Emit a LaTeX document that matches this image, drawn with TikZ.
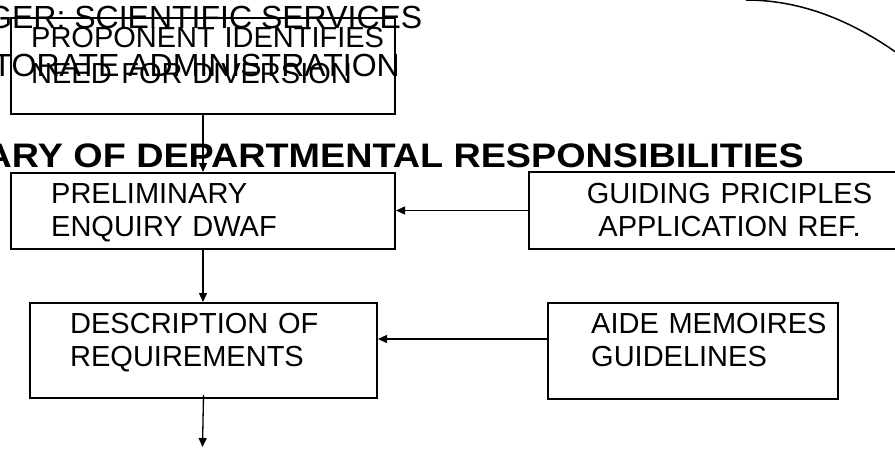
\documentclass[tikz,border=0pt]{standalone}
\usepackage{fontspec}
\usepackage{graphicx}
\setmainfont{Liberation Sans}
\usetikzlibrary{arrows.meta}
\tikzset{
  box/.style={draw, line width=2pt, rectangle, inner sep=0pt, anchor=north west},
  boxtext/.style={anchor=base west, align=left, text width=420pt, inner sep=0pt,
    font=\fontsize{29}{33}\selectfont},
  head/.style={anchor=base east, inner sep=0pt, font=\fontsize{32}{36}\selectfont},
  link/.style={line width=1.3pt, -{Triangle[length=9pt,width=8pt]}},
}
\begin{document}
\begin{tikzpicture}[x=1pt,y=-1pt]
\useasboundingbox (0,0) rectangle (895,448);

% header lines
\node[head] (mgr) at (422.5,28) {GER: SCIENTIFIC SERVICES};
\node[head] (dir) at (400,76) {TORATE ADMINISTRATION};

% curved outline at the top right
\draw[line width=1.5pt] (746,0) .. controls (796,0) and (846,17) .. (897,53);

% boxes
\node[box, minimum width=384pt, minimum height=96pt] (prop)    at (10,17)  {};
\node[box, minimum width=384pt, minimum height=76pt] (prelim)  at (10,172) {};
\node[box, minimum width=367pt, minimum height=77pt] (guide)   at (528,171) {};
\node[box, minimum width=347pt, minimum height=95pt] (desc)    at (29,302) {};
\node[box, minimum width=290pt, minimum height=96pt] (aide)    at (547,302) {};

% box texts
\node[boxtext, font=\fontsize{29}{36}\selectfont] (propt) at (31,47) {PROPONENT IDENTIFIES\\NEED FOR DIVERSION};
\node[boxtext] (prelimt) at (51,203) {PRELIMINARY\\ENQUIRY DWAF};
\node[boxtext, anchor=base, align=center, text width=320pt] (guidet) at (729.5,203) {GUIDING PRICIPLES\\APPLICATION REF.};
\node[boxtext] (desct) at (70,333) {DESCRIPTION OF\\REQUIREMENTS};
\node[boxtext] (aidet) at (591,333) {AIDE MEMOIRES\\GUIDELINES};

% heading
\node[anchor=base east, inner sep=0pt, font=\bfseries\fontsize{34}{40}\selectfont] (title) at (804,167)
  {\scalebox{1.11}[1]{ARY OF DEPARTMENTAL RESPONSIBILITIES}};

% connectors
\coordinate (out) at (202.5,447);
\draw[link] (prop.south) -- (prelim.north);
\draw[link] (guide.west) -- (guide.west -| prelim.east);
\draw[link] (prelim.south) -- (prelim.south |- desc.north);
\draw[link] ([yshift=12pt]aide.west) -- ([yshift=12pt]aide.west -| desc.east);
\draw[link] ([yshift=4pt]desc.south) -- (out);
\end{tikzpicture}
\end{document}
